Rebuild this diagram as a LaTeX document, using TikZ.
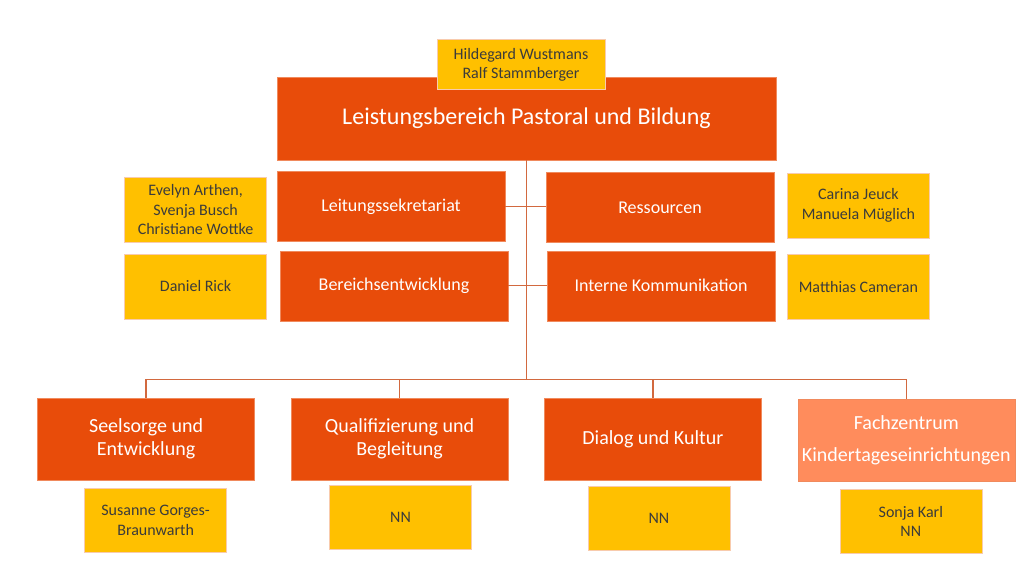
\documentclass[tikz,border=0pt]{standalone}
\usepackage{fontspec}
\setmainfont{Carlito}
\usetikzlibrary{positioning}
\definecolor{unitorange}{HTML}{E84C0A}
\definecolor{unitedge}{HTML}{F08A5D}
\definecolor{lightorange}{HTML}{FF8C5C}
\definecolor{nameyellow}{HTML}{FFC000}
\definecolor{nameedge}{HTML}{F8CBAD}
\definecolor{linkcolor}{HTML}{D2693F}
\definecolor{nametext}{HTML}{3B3B3B}
\tikzset{
    head/.style={
      rectangle,
           fill=unitorange, draw=unitedge, thin,
           inner sep=2pt,
           text=white, align=center,
           minimum width=499pt, minimum height=83pt,
           font=\fontsize{24}{29}\selectfont,
           },
}
\tikzset{
    unit/.style={
      rectangle,
           fill=unitorange, draw=unitedge, thin,
           inner sep=2pt,
           text=white, align=center,
           minimum width=228pt, minimum height=70pt,
           font=\fontsize{18}{22}\selectfont,
           },
}
\tikzset{
    area/.style={
      rectangle,
           fill=unitorange, draw=unitedge, thin,
           inner sep=2pt,
           text=white, align=center,
           minimum width=217pt, minimum height=82pt,
           font=\fontsize{20}{23}\selectfont,
           },
}
\tikzset{
    person/.style={
      rectangle,
           fill=nameyellow, draw=nameedge, thin,
           inner sep=2pt,
           text=nametext, align=center,
           minimum width=142pt, minimum height=65pt,
           font=\fontsize{16}{19.5}\selectfont,
           },
}
\tikzset{
    link/.style={
      draw=linkcolor, line width=1.3pt,
           },
}

\begin{document}
\begin{tikzpicture}

\useasboundingbox (0,0) rectangle (1024pt,-567pt);

\node[head](main) at (526.5pt,-118.5pt){Leistungsbereich Pastoral und Bildung};
\node[person,minimum width=168pt,minimum height=50pt,above=-13pt of main,xshift=-5.5pt](lead){Hildegard Wustmans\\Ralf Stammberger};

\node[unit,below right=11pt and 0pt of main.south west](sek){Leitungssekretariat};
\node[unit,below=9pt of sek,xshift=3pt](ber){Bereichsentwicklung};
\node[unit,below left=12pt and 2pt of main.south east](res){Ressourcen};
\node[unit,below=8pt of res,xshift=1pt](ikom){Interne Kommunikation};

\node[person,left=10pt of sek,yshift=-3.5pt](sekp){Evelyn Arthen,\\Svenja Busch\\Christiane Wottke};
\node[person,below=11pt of sekp](berp){Daniel Rick};
\node[person,right=13pt of res,yshift=2pt](resp){Carina Jeuck\\Manuela Müglich};
\node[person,below=16pt of resp](ikomp){Matthias Cameran};

\path (sek.east) edge[link](sek.east -| res.west);
\path (ber.east) edge[link](ber.east -| ikom.west);

\node[area,below=77pt of ber,xshift=5.5pt](qual){Qualifizierung und\\Begleitung};
\node[area,left=36pt of qual](seel){Seelsorge und\\Entwicklung};
\node[area,right=36pt of qual](dia){Dialog und Kultur};
\node[area,right=36pt of dia,yshift=-1pt,fill=lightorange,font=\fontsize{20}{32}\selectfont](fach){Fachzentrum\\Kindertageseinrichtungen};

\node[person,minimum height=64pt,below=8pt of seel,xshift=9.5pt](seelp){Susanne Gorges-\\Braunwarth};
\node[person,minimum height=64pt,below=5pt of qual,xshift=1pt](qualp){NN};
\node[person,minimum height=64pt,below=6pt of dia,xshift=6pt](diap){NN};
\node[person,minimum height=64pt,below=8pt of fach,xshift=4.5pt](fachp){Sonja Karl\\NN};

\coordinate[below=219pt of main](bus);
\path (main) edge[link](bus);
\draw[link] (seel.north) |- (bus) -| (fach.north);
\draw[link] (qual.north) |- (bus);
\draw[link] (dia.north) |- (bus);

\end{tikzpicture}
\end{document}
